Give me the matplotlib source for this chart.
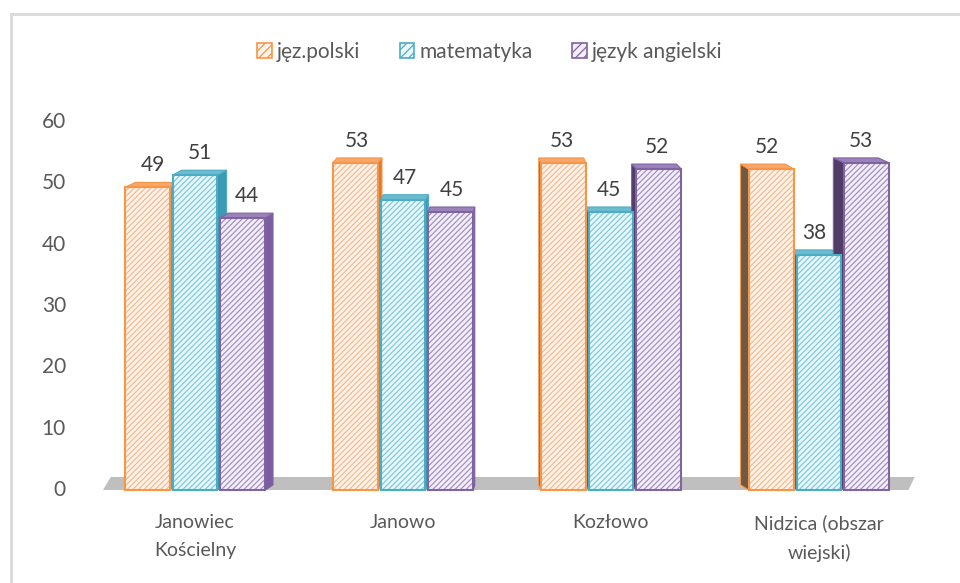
import matplotlib
matplotlib.use("Agg")
import matplotlib.pyplot as plt
from matplotlib.patches import Polygon, Rectangle, Patch
from matplotlib.lines import Line2D
import numpy as np

categories = ["Janowiec\nKościelny", "Janowo", "Kozłowo", "Nidzica (obszar\nwiejski)"]
series_names = ["jęz.polski", "matematyka", "język angielski"]
jez_polski = [49, 53, 53, 52]
matematyka = [51, 47, 45, 38]
jezyk_angielski = [44, 45, 52, 53]
y_ticks = [0, 10, 20, 30, 40, 50, 60]

series_values = [jez_polski, matematyka, jezyk_angielski]
edge_colors = ["#f79646", "#4bacc6", "#8064a2"]
fill_colors = ["#fff4ec", "#eaf7fb", "#f3eff8"]
hatch_colors = ["#f8b98c", "#7ccbdf", "#a590c6"]
top_colors = ["#f7a66c", "#6cbcd1", "#9a82ba"]
side_right = ["#d97a36", "#3d9ab3", "#7a5ea0"]
side_left = ["#6e5846", "#2f6f80", "#4f3d68"]

plt.rcParams["hatch.linewidth"] = 0.9
FONT = ["Lato", "DejaVu Sans"]
TXT = "#595959"

W, H = 960, 583
fig = plt.figure(figsize=(W / 100, H / 100), dpi=100)
fig.patch.set_facecolor("white")

# chart border (top and left)
fig.add_artist(Line2D([11 / W, 1], [1 - 14 / H, 1 - 14 / H], color="#d9d9d9", lw=2))
fig.add_artist(Line2D([11 / W, 11 / W], [0, 1 - 14 / H], color="#d9d9d9", lw=2))

ax_left, ax_right, ax_top, ax_bot = 91, 923, 120, 488
ax = fig.add_axes([ax_left / W, 1 - ax_bot / H, (ax_right - ax_left) / W, (ax_bot - ax_top) / H])
ax.set_xlim(-0.5, 3.5)
ax.set_ylim(0, 60)
for s in ax.spines.values():
    s.set_visible(False)
ax.set_facecolor("none")

px_per_x = (ax_right - ax_left) / 4.0
px_per_y = (ax_bot - ax_top) / 60.0

# floor
floor_front = -2 / px_per_y
floor_back = 11 / px_per_y
fl = Polygon([(-0.442, floor_front), (3.43, floor_front), (3.46, floor_back), (-0.405, floor_back)],
             closed=True, facecolor="#bfbfbf", edgecolor="none", clip_on=False, zorder=1)
ax.add_patch(fl)

bar_w = 0.216
offsets = [-0.23, 0.0, 0.23]
vx = (500 - ax_left) / px_per_x - 0.5
dy = 5 / px_per_y
persp = 0.03
y0 = floor_front

x = np.arange(len(categories))
fronts = []
for si, vals in enumerate(series_values):
    for ci, v in enumerate(vals):
        xc = x[ci] + offsets[si]
        x0, x1 = xc - bar_w / 2, xc + bar_w / 2
        dx = persp * (vx - xc)
        if dx >= 0:
            side = [(x1, y0), (x1 + dx, y0 + dy), (x1 + dx, v + dy), (x1, v)]
            sc = side_right[si]
        else:
            side = [(x0, y0), (x0 + dx, y0 + dy), (x0 + dx, v + dy), (x0, v)]
            sc = side_left[si]
        ax.add_patch(Polygon(side, closed=True, facecolor=sc, edgecolor=edge_colors[si],
                             lw=0.8, clip_on=False, zorder=2))
        top = [(x0, v), (x1, v), (x1 + dx, v + dy), (x0 + dx, v + dy)]
        ax.add_patch(Polygon(top, closed=True, facecolor=top_colors[si], edgecolor=edge_colors[si],
                             lw=0.8, clip_on=False, zorder=2))
        fronts.append((si, x0, v, dx))

for si, x0, v, dx in fronts:
    ax.add_patch(Rectangle((x0, y0), bar_w, v - y0, facecolor=fill_colors[si],
                           edgecolor=hatch_colors[si], lw=0, hatch="//////", clip_on=False, zorder=3))
    ax.add_patch(Rectangle((x0, y0), bar_w, v - y0, facecolor="none",
                           edgecolor=edge_colors[si], lw=1.5, clip_on=False, zorder=4))
    ax.annotate(str(v), xy=(x0 + bar_w / 2 + dx / 2, v), xytext=(0, 16), textcoords="offset points",
                ha="center", va="center", fontsize=15, color="#404040", family=FONT, zorder=5)

ax.set_yticks(y_ticks)
ax.set_yticklabels([str(t) for t in y_ticks], fontsize=15, color=TXT, family=FONT)
ax.tick_params(axis="y", length=0, pad=18)
ax.set_xticks(x)
ax.set_xticklabels(categories, fontsize=14, color=TXT, family=FONT, linespacing=1.75)
ax.tick_params(axis="x", length=0, pad=19)

handles = [Patch(facecolor=fill_colors[i], edgecolor=edge_colors[i], hatch="////", lw=1.2)
           for i in range(3)]
leg = fig.legend(handles, series_names, loc="center", bbox_to_anchor=(490 / W, 1 - 52 / H),
                 ncol=3, frameon=False, handlelength=0.7, handleheight=0.7,
                 handletextpad=0.25, columnspacing=1.9, prop={"family": FONT, "size": 15})
for t in leg.get_texts():
    t.set_color(TXT)

fig.savefig("out.png", dpi=100, facecolor="white")
